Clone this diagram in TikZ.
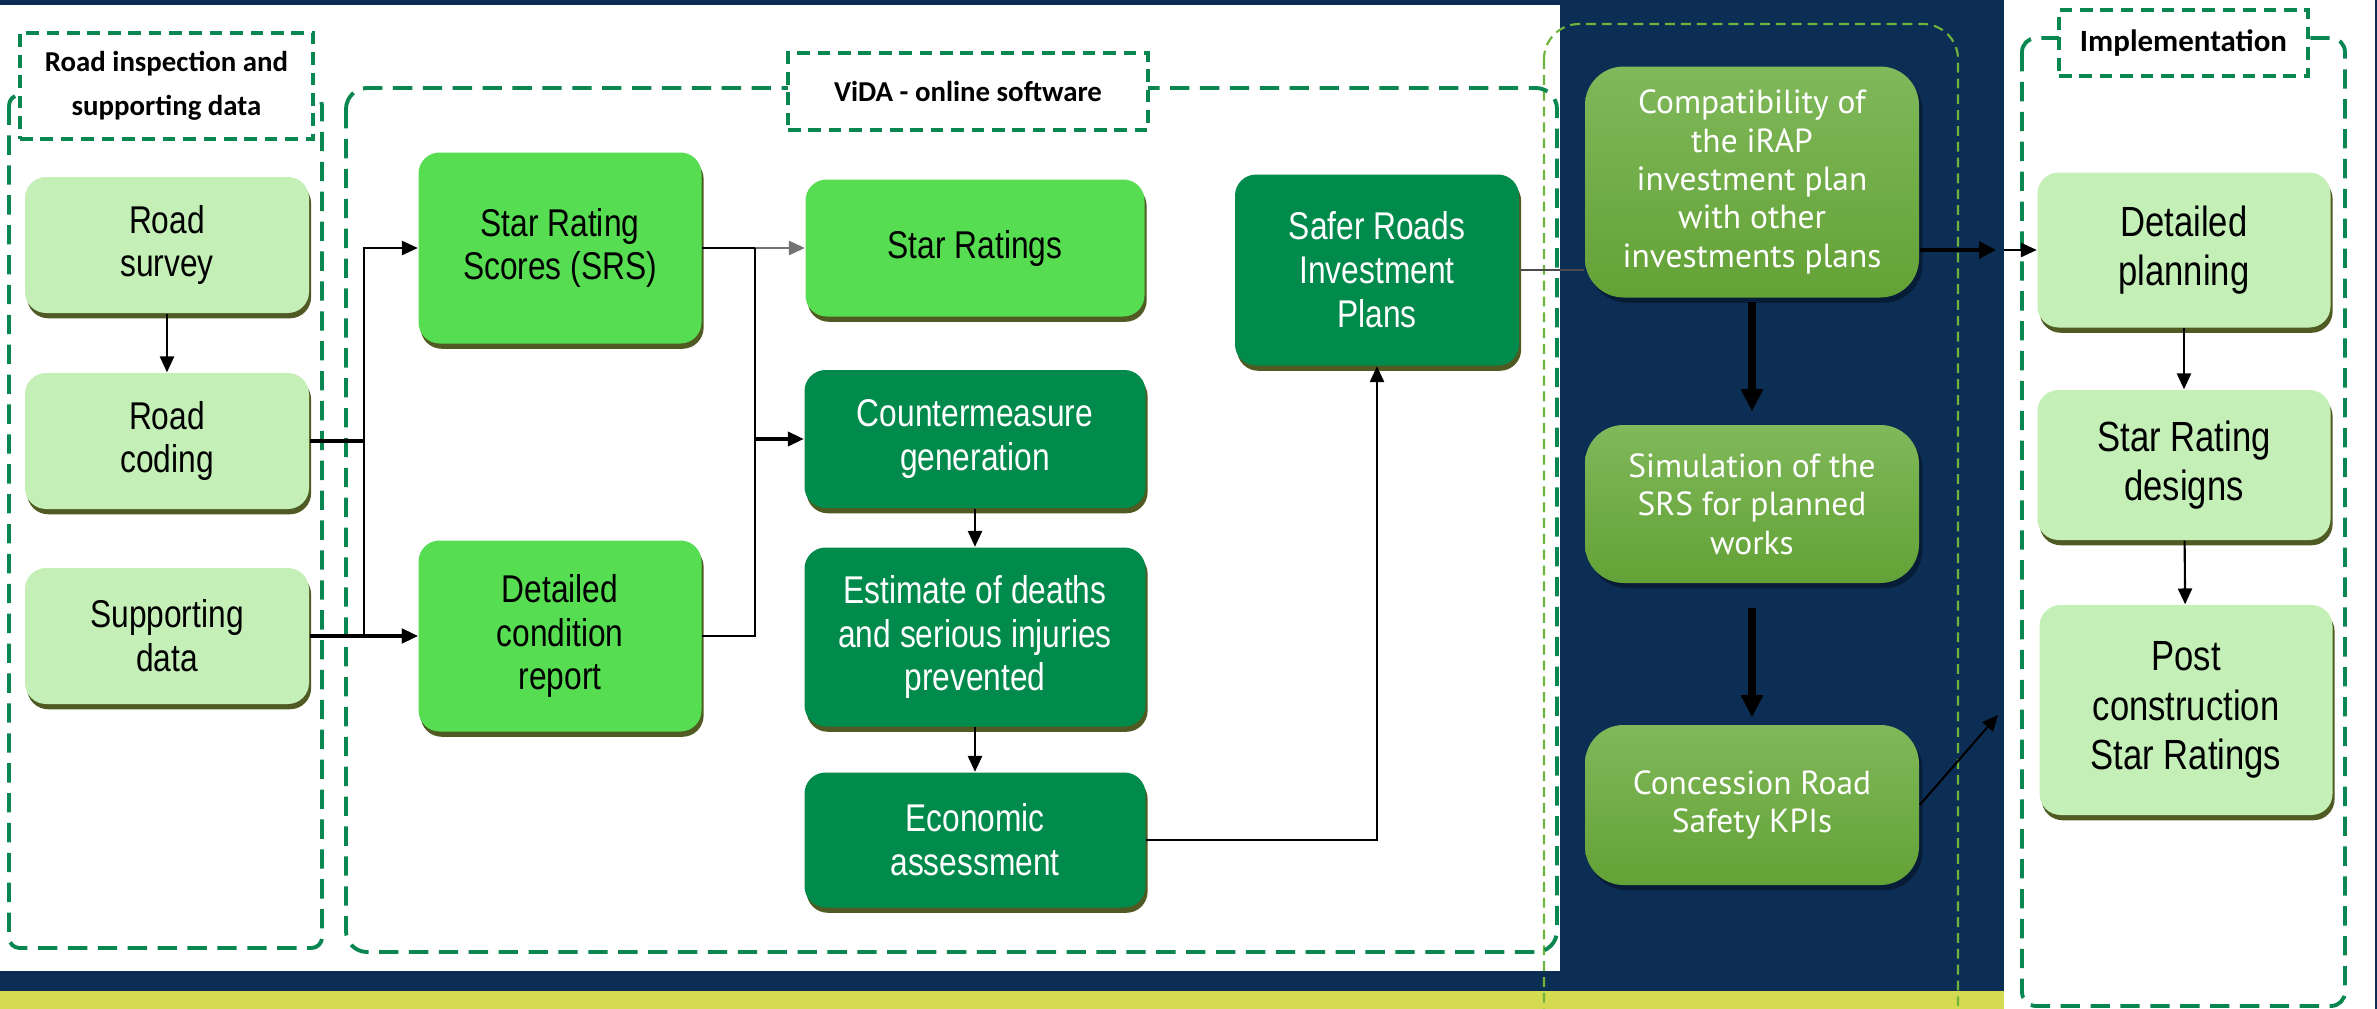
\documentclass[tikz,border=0pt]{standalone}
\usepackage{fontspec}
\usetikzlibrary{arrows.meta,shadows}
\setmainfont{Liberation Sans}
\newfontfamily\boxfont[FakeStretch=0.82]{Liberation Sans}
\newfontfamily\tagfont{Carlito}
\newfontfamily\panelfont{PT Sans}

\definecolor{navy}{HTML}{0C2E55}
\definecolor{lemon}{HTML}{D4DB50}
\definecolor{paleg}{HTML}{C4F0B8}
\definecolor{brightg}{HTML}{57DD52}
\definecolor{deepg}{HTML}{008A4B}
\definecolor{oliveT}{HTML}{80B85A}
\definecolor{oliveB}{HTML}{63A236}
\definecolor{dashg}{HTML}{0A8750}
\definecolor{dashl}{HTML}{6EB43C}
\definecolor{shade}{HTML}{4F5B22}

\tikzset{
  sz/.style 2 args={minimum width=#1*0.01cm, minimum height=#2*0.01cm},
  box/.style={rounded corners=6pt, inner sep=0pt, align=center,
    font=\boxfont\fontsize{11}{12.5}\selectfont,
    drop shadow={shadow xshift=0.6pt, shadow yshift=-1.5pt, fill=shade, opacity=1}},
  pale/.style={box, fill=paleg, text=black},
  implbox/.style={pale, font=\boxfont\fontsize{12}{14}\selectfont},
  bright/.style={box, fill=brightg, text=black},
  deep/.style={box, fill=deepg, text=white},
  olive/.style={rounded corners=11pt, inner sep=0pt, align=center,
    top color=oliveT, bottom color=oliveB, text=white,
    font=\panelfont\fontsize{9.5}{10.9}\selectfont,
    drop shadow={shadow xshift=1pt, shadow yshift=-1.5pt, fill=black, opacity=0.35}},
  grp/.style={draw=dashg, line width=1.1pt, dash pattern=on 5.5pt off 3pt},
  panelgrp/.style={draw=dashl, line width=0.6pt, dash pattern=on 2.8pt off 1.7pt},
  tag/.style={draw=dashg, fill=white, line width=1.1pt, dash pattern=on 3.6pt off 2.2pt,
    inner sep=0pt, align=center, text=black,
    font=\tagfont\bfseries\fontsize{8.2}{12.5}\selectfont},
  ln/.style={draw=black, line width=0.6pt},
  ar/.style={ln, -{Triangle[length=4.5pt,width=4pt]}},
  fat/.style={line width=2.3pt, -{Triangle[length=6.3pt,width=6pt]}},
  mid/.style={line width=1pt, -{Triangle[length=4.8pt,width=4.8pt]}}
}

\begin{document}
\begin{tikzpicture}[x=0.01cm,y=-0.01cm]
\useasboundingbox (0,0) rectangle (2377,1009);

% background panels
\fill[white] (0,0) rectangle (2377,1009);
\fill[navy] (0,0) rectangle (1560,5);
\fill[navy] (1560,0) rectangle (2004,991);
\fill[navy] (0,971) rectangle (2004,991);
\fill[lemon] (0,991) rectangle (2004,1009);
\fill[navy] (2375,0) rectangle (2377,1009);

% group frames
\draw[panelgrp, rounded corners=10pt] (1544,24) rectangle (1958,1045);
\draw[grp, rounded corners=3pt] (9,95) rectangle (322,948);
\draw[grp, rounded corners=6pt] (346,88) rectangle (1557,952);
\draw[grp, rounded corners=4pt] (2022,38) rectangle (2345,1006);

% group titles
\node[tag, sz={293}{106}] (tagroad) at (166.5,86) {Road inspection and\\supporting data};
\node[tag, sz={360}{77}] (tagvida) at (968,91.5) {ViDA - online software};
\node[tag, sz={249}{66}, font=\tagfont\bfseries\fontsize{8.8}{12}\selectfont] (tagimpl) at (2183.5,43) {Implementation};

% road inspection and supporting data
\node[pale, sz={284}{136}] (rs) at (167,245) {Road\\survey};
\node[pale, sz={284}{136}] (rc) at (167,441) {Road\\coding};
\node[pale, sz={284}{136}] (sd) at (167,636) {Supporting\\data};

% ViDA
\node[bright, sz={283}{191}] (srs) at (560,248) {Star Rating\\Scores (SRS)};
\node[bright, sz={283}{191}] (dcr) at (560,636) {Detailed\\condition\\report};
\node[bright, sz={339}{137}] (sr) at (975,248) {Star Ratings};
\node[deep, sz={341}{138}] (cm) at (975,439) {Countermeasure\\generation};
\node[deep, sz={341}{179}] (est) at (975,637) {Estimate of deaths\\and serious injuries\\prevented};
\node[deep, sz={341}{135}] (eco) at (975,840) {Economic\\assessment};
\node[deep, sz={284}{191}] (srip) at (1377,270) {Safer Roads\\Investment\\Plans};

% concession panel
\node[olive, sz={334}{231}] (comp) at (1752,182) {Compatibility of\\the iRAP\\investment plan\\with other\\investments plans};
\node[olive, sz={334}{158}] (sim) at (1752,504) {Simulation of the\\SRS for planned\\works};
\node[olive, sz={334}{160}] (con) at (1752,805) {Concession Road\\Safety KPIs};

% implementation
\node[implbox, sz={293}{155}] (dp) at (2184,250) {Detailed\\planning};
\node[implbox, sz={293}{150}] (srd) at (2184,465) {Star Rating\\designs};
\node[implbox, sz={293}{210}] (pcsr) at (2186,710) {Post\\construction\\Star Ratings};

% connectors
\draw[ar] (rs) -- (rc);
\draw[ln, line width=1pt] (rc.east) -- ++(54,0) coordinate (b1);
\draw[ar] (b1) |- (srs.west);
\draw[ar] (b1) |- (dcr.west);
\draw[ar, line width=1pt] (sd.east) -- (sd.east -| dcr.west);

\draw[ln] (srs.east) -- ++(53,0) coordinate (b2);
\draw[ar, draw=black!55] (b2) -- (sr.west);
\draw[ln] (dcr.east) -| (b2);
\draw[ar, line width=0.9pt] (b2 |- cm.west) -- (cm.west);
\draw[ar] (cm) -- (est);
\draw[ar] (est) -- (eco);
\draw[ar] (eco.east) -| (srip.south);
\draw[ln, draw=black!70] (srip.east) -- (srip.east -| comp.west);

\draw[fat, shorten <=1.2pt, shorten >=3.7pt] (comp) -- (sim);
\draw[fat, shorten <=7pt, shorten >=2pt] (sim) -- (con);

\coordinate (pe) at (1996,250);
\coordinate (pe2) at (2004,250);
\draw[mid] (comp.east |- dp.west) -- (pe);
\draw[ar] (pe2) -- (dp.west);
\coordinate (kt) at (1998,715);
\draw[ar] (con.east) -- (kt);

\draw[ar] (dp) -- (srd);
\draw[ar] (srd) -- (pcsr);
\end{tikzpicture}
\end{document}
